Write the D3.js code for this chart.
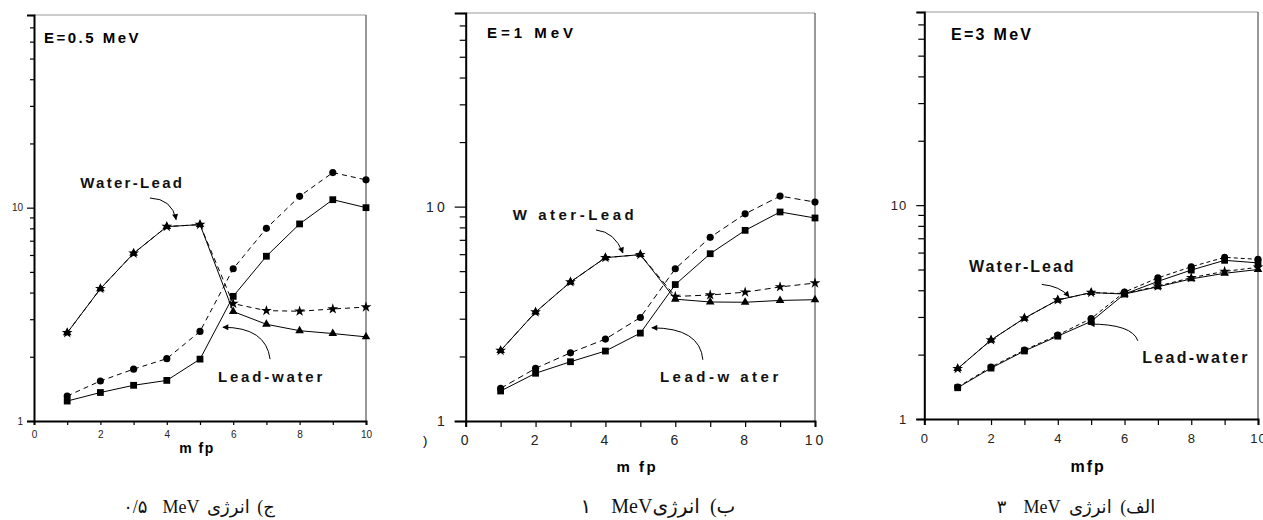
<!DOCTYPE html>
<html><head><meta charset="utf-8">
<script src="https://cdn.jsdelivr.net/npm/d3@7"></script>
<style>
html,body{margin:0;padding:0;background:#fff;}
svg{display:block;}
</style></head>
<body>
<svg id="chart" width="1263" height="520"></svg>
<script>
// ---------------- DATA ----------------
const mfp = [1, 2, 3, 4, 5, 6, 7, 8, 9, 10];
const xTickMajor = [0, 2, 4, 6, 8, 10];
const xTickMinor = [1, 3, 5, 7, 9];
const yTickMajor = [1, 10];
const yTickMinor = [2, 3, 4, 5, 6, 7, 8, 9, 20, 30, 40, 50, 60, 70, 80];
const yDomain = [1, 80];

// E = 0.5 MeV
const waterLeadTri05  = [2.59, 4.17, 6.11, 8.15, 8.33, 3.26, 2.84, 2.65, 2.57, 2.48];
const waterLeadStar05 = [2.59, 4.17, 6.11, 8.15, 8.33, 3.55, 3.29, 3.27, 3.35, 3.42];
const leadWaterCirc05 = [1.31, 1.54, 1.75, 1.96, 2.63, 5.17, 8.0, 11.3, 14.6, 13.5];
const leadWaterSq05   = [1.24, 1.36, 1.47, 1.55, 1.95, 3.84, 5.92, 8.39, 10.9, 10.0];
// E = 1 MeV
const waterLeadTri1  = [2.13, 3.22, 4.45, 5.78, 5.97, 3.70, 3.59, 3.58, 3.65, 3.68];
const waterLeadStar1 = [2.13, 3.22, 4.45, 5.78, 5.97, 3.81, 3.87, 3.99, 4.22, 4.40];
const leadWaterCirc1 = [1.42, 1.76, 2.08, 2.41, 3.04, 5.13, 7.19, 9.25, 11.2, 10.5];
const leadWaterSq1   = [1.38, 1.67, 1.89, 2.12, 2.57, 4.33, 6.03, 7.75, 9.44, 8.85];
// E = 3 MeV
const waterLeadTri3  = [1.72, 2.34, 2.96, 3.60, 3.90, 3.84, 4.15, 4.52, 4.80, 5.00];
const waterLeadStar3 = [1.72, 2.34, 2.96, 3.60, 3.90, 3.86, 4.18, 4.58, 4.90, 5.12];
const leadWaterCirc3 = [1.41, 1.75, 2.10, 2.47, 2.95, 3.92, 4.57, 5.15, 5.70, 5.58];
const leadWaterSq3   = [1.40, 1.73, 2.08, 2.44, 2.86, 3.84, 4.40, 4.97, 5.52, 5.37];

const panelTitles = ["E=0.5 MeV", "E=1 MeV", "E=3 MeV"];
const waterLeadLabels = ["Water-Lead", "W ater-Lead", "Water-Lead"];
const leadWaterLabels = ["Lead-water", "Lead-w ater", "Lead-water"];
const xAxisLabels = ["m fp", "m fp", "mfp"];
const captions = ["ج) انرژی MeV \u200F ۰/۵", "ب) انرژیMeV \u200F ۱", "الف) انرژی MeV \u200F ۳"];

// annotation anchors in data units [mfp, value]
const wlText  = [[1.39, 12.4], [1.35, 8.67], [1.34, 4.88]];
const wlArrow = [[[3.49, 11.1], [4.16, 11.0], [4.28, 8.79]],
                 [[3.73, 7.78], [4.27, 7.62], [4.50, 6.08]],
                 [[3.52, 4.26], [4.07, 4.18], [4.34, 3.73]]];
const lwText  = [[5.54, 1.52], [5.56, 1.52], [6.53, 1.82]];
const lwArrow = [[[7.11, 1.95], [6.99, 2.75], [5.69, 2.75]],
                 [[6.79, 1.93], [6.71, 2.72], [5.33, 2.72]],
                 [[6.40, 2.32], [6.23, 2.78], [4.94, 2.78]]];
const titlePos = [[0.30, 59.2], [0.61, 61], [0.80, 59]];

// ---------------- LAYOUT ----------------
const panels = [
  {left: 34, right: 366, top: 15, bottom: 421,
   tickFont: 10, tickLS: 0, yMajLen: 7, yMinLen: 4, yPad: 4, xLen: 4, xPad: 6,
   labFont: 15, titleLS: 2.5, wlLS: 2.3, lwLS: 2.8, axLS: 1.5, axFont: 14, axBase: 453,
   capX: 199, capFont: 18, capWS: 3, dash: "5,4",
   tri: waterLeadTri05, star: waterLeadStar05, circ: leadWaterCirc05, sq: leadWaterSq05},
  {left: 465.7, right: 815, top: 13, bottom: 421,
   tickFont: 14, tickLS: 3, yMajLen: 11, yMinLen: 6, yPad: 7, xLen: 6, xPad: 8,
   labFont: 15, titleLS: 4, wlLS: 3.5, lwLS: 3.5, axLS: 2.5, axFont: 15, axBase: 471.7,
   capX: 658, capFont: 20, capWS: 5, dash: "6,4",
   tri: waterLeadTri1, star: waterLeadStar1, circ: leadWaterCirc1, sq: leadWaterSq1},
  {left: 924.3, right: 1258, top: 12, bottom: 419,
   tickFont: 13, tickLS: 1, yMajLen: 8, yMinLen: 6, yPad: 9, xLen: 6, xPad: 9,
   labFont: 16, titleLS: 2.3, wlLS: 2, lwLS: 2.3, axLS: 2, axFont: 16, axBase: 471.7,
   capX: 1076, capFont: 18, capWS: 4, dash: "4,3",
   tri: waterLeadTri3, star: waterLeadStar3, circ: leadWaterCirc3, sq: leadWaterSq3}
];

const svg = d3.select("#chart");
const defs = svg.append("defs");
defs.append("marker").attr("id", "ah").attr("viewBox", "0 0 10 10")
  .attr("refX", 9).attr("refY", 5).attr("markerWidth", 7).attr("markerHeight", 6)
  .attr("markerUnits", "userSpaceOnUse").attr("orient", "auto")
  .append("path").attr("d", "M0,0 L10,5 L0,10 z").attr("fill", "#000");

const sans = "'Liberation Sans', Arial, Helvetica, sans-serif";

panels.forEach((p, i) => {
  const x = d3.scaleLinear().domain([0, 10]).range([p.left, p.right]);
  const y = d3.scaleLog().domain(yDomain).range([p.bottom, p.top]);
  const g = svg.append("g");

  // frame top & right
  g.append("line").attr("x1", p.left).attr("x2", p.right).attr("y1", p.top).attr("y2", p.top)
    .attr("stroke", "#999").attr("stroke-width", 1);
  g.append("line").attr("x1", p.right).attr("x2", p.right).attr("y1", p.top).attr("y2", p.bottom)
    .attr("stroke", "#555").attr("stroke-width", 1.2);

  // y axis
  const yMaj = g.append("g").attr("transform", `translate(${p.left},0)`)
    .call(d3.axisLeft(y).tickValues(yTickMajor).tickFormat(d3.format("d"))
      .tickSize(p.yMajLen).tickPadding(p.yPad));
  const yMin = g.append("g").attr("transform", `translate(${p.left},0)`)
    .call(d3.axisLeft(y).tickValues(yTickMinor).tickFormat("").tickSize(p.yMinLen));
  yMin.select(".domain").remove();
  // x axis
  const xMaj = g.append("g").attr("transform", `translate(0,${p.bottom})`)
    .call(d3.axisBottom(x).tickValues(xTickMajor).tickFormat(d3.format("d"))
      .tickSize(p.xLen).tickPadding(p.xPad));
  const xMin = g.append("g").attr("transform", `translate(0,${p.bottom})`)
    .call(d3.axisBottom(x).tickValues(xTickMinor).tickFormat("").tickSize(p.xLen));
  xMin.select(".domain").remove();
  [yMaj, xMaj].forEach(a => {
    a.select(".domain").attr("stroke", "#000").attr("stroke-width", 2);
    a.selectAll("text").attr("font-family", sans).attr("font-size", p.tickFont)
      .attr("letter-spacing", p.tickLS).attr("fill", "#222");
  });
  [yMaj, yMin, xMaj, xMin].forEach(a => a.selectAll(".tick line").attr("stroke", "#000").attr("stroke-width", 1.2));

  // lines
  const line = vals => d3.line().x((d, k) => x(mfp[k])).y(d => y(d))(vals);
  const series = [
    {v: p.tri, dash: null, sym: d3.symbolTriangle, size: 32},
    {v: p.star, dash: p.dash, sym: d3.symbolStar, size: 36},
    {v: p.circ, dash: p.dash, sym: d3.symbolCircle, size: 40},
    {v: p.sq, dash: null, sym: d3.symbolSquare, size: 46}
  ];
  series.forEach(s => {
    g.append("path").attr("d", line(s.v)).attr("fill", "none").attr("stroke", "#000")
      .attr("stroke-width", 1).attr("stroke-dasharray", s.dash);
  });
  series.forEach(s => {
    g.append("g").selectAll("path").data(s.v).join("path")
      .attr("transform", (d, k) => `translate(${x(mfp[k])},${y(d)})`)
      .attr("d", d3.symbol().type(s.sym).size(s.size)).attr("fill", "#000");
  });

  // title
  g.append("text").attr("x", x(titlePos[i][0])).attr("y", y(titlePos[i][1]))
    .attr("font-family", sans).attr("font-weight", "bold").attr("font-size", p.labFont)
    .attr("letter-spacing", p.titleLS).text(panelTitles[i]);
  // annotations
  g.append("text").attr("x", x(wlText[i][0])).attr("y", y(wlText[i][1]))
    .attr("font-family", sans).attr("font-weight", "bold").attr("font-size", p.labFont)
    .attr("letter-spacing", p.wlLS).attr("fill", "#111").text(waterLeadLabels[i]);
  g.append("text").attr("x", x(lwText[i][0])).attr("y", y(lwText[i][1]))
    .attr("font-family", sans).attr("font-weight", "bold").attr("font-size", p.labFont)
    .attr("letter-spacing", p.lwLS).attr("fill", "#111").text(leadWaterLabels[i]);
  const curve = pts => {
    const q = pts.map(d => [x(d[0]), y(d[1])]);
    return `M${q[0][0]},${q[0][1]} Q${q[1][0]},${q[1][1]} ${q[2][0]},${q[2][1]}`;
  };
  [wlArrow[i], lwArrow[i]].forEach(a => {
    g.append("path").attr("d", curve(a)).attr("fill", "none").attr("stroke", "#000")
      .attr("stroke-width", 1).attr("marker-end", "url(#ah)");
  });
  // x-axis title
  g.append("text").attr("x", (p.left + p.right) / 2 - 3).attr("y", p.axBase)
    .attr("text-anchor", "middle").attr("font-family", sans).attr("font-weight", "bold")
    .attr("font-size", p.axFont).attr("letter-spacing", p.axLS).text(xAxisLabels[i]);
  // caption
  g.append("text").attr("x", p.capX).attr("y", 513).attr("text-anchor", "middle")
    .attr("direction", "rtl").attr("font-family", "'Liberation Serif', 'Times New Roman', 'DejaVu Sans', serif")
    .attr("font-size", p.capFont).attr("word-spacing", p.capWS).attr("fill", "#111").text(captions[i]);
});

// stray glyph fragment at left of middle panel
svg.append("text").attr("x", 423).attr("y", 445).attr("font-family", sans)
  .attr("font-size", 13).text(")");
</script>
</body></html>
